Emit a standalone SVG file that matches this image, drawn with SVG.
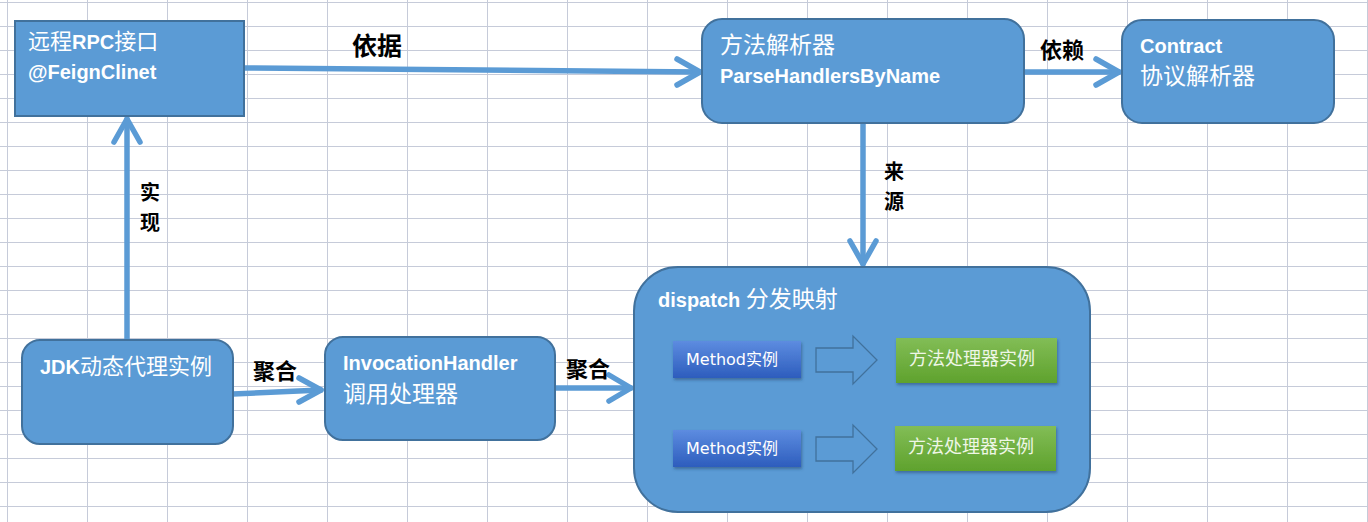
<svg xmlns="http://www.w3.org/2000/svg" width="1368" height="522" viewBox="0 0 1368 522">
<defs>
<style>
.grid line{stroke:#c6cbd9;stroke-width:1}
.box{fill:#5b9bd5;stroke:#41719c;stroke-width:2}
.conn{fill:none;stroke:#5b9bd5;stroke-width:5.5;stroke-linecap:round;stroke-linejoin:round}
.wt{fill:#ffffff;font-family:"Noto Sans CJK SC","Liberation Sans",sans-serif;font-size:23px}
.lat{font-family:"Liberation Sans","Noto Sans CJK SC",sans-serif;font-weight:bold;font-size:20px}
.lbl{fill:#000000;font-family:"Noto Sans CJK SC",sans-serif;font-weight:bold;font-size:22px}
.vl{font-size:20px}
.blk{fill:none;stroke:#41719c;stroke-width:1.3}
.mt{fill:#ffffff;font-family:"DejaVu Sans","Noto Sans CJK SC",sans-serif;font-size:16px}
.gt{fill:#eef6e6;font-family:"Noto Sans CJK SC",sans-serif;font-size:18px}
</style>
<linearGradient id="gBlue" x1="0" y1="0" x2="0" y2="1">
<stop offset="0" stop-color="#5d8ce0"/>
<stop offset="1" stop-color="#2d5dbd"/>
</linearGradient>
<linearGradient id="gGreen" x1="0" y1="0" x2="0" y2="1">
<stop offset="0" stop-color="#82bd56"/>
<stop offset="1" stop-color="#5fa22d"/>
</linearGradient>
<filter id="sh" x="-10%" y="-20%" width="130%" height="150%">
<feDropShadow dx="1" dy="2" stdDeviation="1.5" flood-color="#1f3c66" flood-opacity="0.5"/>
</filter>
</defs>
<rect width="1368" height="522" fill="#ffffff"/>
<g class="grid">
<line x1="7.5" y1="0" x2="7.5" y2="522"/><line x1="87.5" y1="0" x2="87.5" y2="522"/><line x1="167.5" y1="0" x2="167.5" y2="522"/><line x1="247.5" y1="0" x2="247.5" y2="522"/><line x1="327.5" y1="0" x2="327.5" y2="522"/><line x1="407.5" y1="0" x2="407.5" y2="522"/><line x1="487.5" y1="0" x2="487.5" y2="522"/><line x1="567.5" y1="0" x2="567.5" y2="522"/><line x1="647.5" y1="0" x2="647.5" y2="522"/><line x1="727.5" y1="0" x2="727.5" y2="522"/><line x1="807.5" y1="0" x2="807.5" y2="522"/><line x1="887.5" y1="0" x2="887.5" y2="522"/><line x1="967.5" y1="0" x2="967.5" y2="522"/><line x1="1047.5" y1="0" x2="1047.5" y2="522"/><line x1="1127.5" y1="0" x2="1127.5" y2="522"/><line x1="1207.5" y1="0" x2="1207.5" y2="522"/><line x1="1287.5" y1="0" x2="1287.5" y2="522"/><line x1="1367.5" y1="0" x2="1367.5" y2="522"/>
<line x1="0" y1="2.5" x2="1368" y2="2.5"/><line x1="0" y1="26.5" x2="1368" y2="26.5"/><line x1="0" y1="50.5" x2="1368" y2="50.5"/><line x1="0" y1="74.5" x2="1368" y2="74.5"/><line x1="0" y1="98.5" x2="1368" y2="98.5"/><line x1="0" y1="122.5" x2="1368" y2="122.5"/><line x1="0" y1="146.5" x2="1368" y2="146.5"/><line x1="0" y1="170.5" x2="1368" y2="170.5"/><line x1="0" y1="194.5" x2="1368" y2="194.5"/><line x1="0" y1="218.5" x2="1368" y2="218.5"/><line x1="0" y1="242.5" x2="1368" y2="242.5"/><line x1="0" y1="266.5" x2="1368" y2="266.5"/><line x1="0" y1="290.5" x2="1368" y2="290.5"/><line x1="0" y1="314.5" x2="1368" y2="314.5"/><line x1="0" y1="338.5" x2="1368" y2="338.5"/><line x1="0" y1="362.5" x2="1368" y2="362.5"/><line x1="0" y1="386.5" x2="1368" y2="386.5"/><line x1="0" y1="410.5" x2="1368" y2="410.5"/><line x1="0" y1="434.5" x2="1368" y2="434.5"/><line x1="0" y1="458.5" x2="1368" y2="458.5"/><line x1="0" y1="482.5" x2="1368" y2="482.5"/><line x1="0" y1="506.5" x2="1368" y2="506.5"/>
</g>
<g id="connectors">
<path class="conn" d="M244,68 L699,72"/>
<path class="conn" d="M677,59 L700,72 L677,85"/>
<path class="conn" d="M1024,72 L1119,72"/>
<path class="conn" d="M1096,59 L1119,72 L1096,85"/>
<path class="conn" d="M127,340 L127,119"/>
<path class="conn" d="M114,142 L127,119 L140,142"/>
<path class="conn" d="M863,122 L863,264"/>
<path class="conn" d="M850,241 L863,264 L876,241"/>
<path class="conn" d="M233,394 L321,390"/>
<path class="conn" d="M299,378 L321,390 L299,402"/>
<path class="conn" d="M555,388 L631,388"/>
<path class="conn" d="M609,375 L631,388 L609,401"/>
<text class="lbl" x="352" y="55" style="font-size:25px">依据</text>
<text class="lbl" x="1040" y="58">依赖</text>
<text class="lbl vl" x="140" y="200">实</text>
<text class="lbl vl" x="140" y="230">现</text>
<text class="lbl vl" x="884" y="179">来</text>
<text class="lbl vl" x="884" y="209">源</text>
<text class="lbl" x="253" y="379">聚合</text>
<text class="lbl" x="566" y="377">聚合</text>
</g>
<g id="rpc">
<rect class="box" x="15" y="21" width="229" height="95"/>
<text class="wt" x="28" y="49" style="font-size:22px">远程<tspan class="lat">RPC</tspan>接口</text>
<text class="wt lat" x="28" y="79">@FeignClinet</text>
</g>
<g id="parser">
<rect class="box" x="702" y="19" width="322" height="104" rx="20"/>
<text class="wt" x="720" y="53">方法解析器</text>
<text class="wt lat" x="720" y="83">ParseHandlersByName</text>
</g>
<g id="contract">
<rect class="box" x="1122" y="20" width="212" height="103" rx="20"/>
<text class="wt lat" x="1140" y="53">Contract</text>
<text class="wt" x="1140" y="84">协议解析器</text>
</g>
<g id="jdk">
<rect class="box" x="22" y="340" width="211" height="104" rx="18"/>
<text class="wt" x="40" y="374" style="font-size:22px"><tspan class="lat">JDK</tspan>动态代理实例</text>
</g>
<g id="handler">
<rect class="box" x="325" y="337" width="230" height="103" rx="18"/>
<text class="wt lat" x="343" y="370">InvocationHandler</text>
<text class="wt" x="343" y="402">调用处理器</text>
</g>
<g id="dispatch">
<rect class="box" x="634" y="267" width="456" height="245" rx="44"/>
<text class="wt" x="658" y="307"><tspan class="lat">dispatch </tspan>分发映射</text>
</g>
<g id="method1">
<rect x="673" y="341" width="128" height="37" fill="url(#gBlue)" filter="url(#sh)"/>
<text class="mt" x="686" y="365">Method实例</text>
</g>
<g id="arrow1">
<path class="blk" d="M816,348 L853,348 L853,336 L877,360 L853,384 L853,372 L816,372 Z"/>
</g>
<g id="handler1">
<rect x="896" y="338" width="161" height="45" fill="url(#gGreen)" filter="url(#sh)"/>
<text class="gt" x="909" y="365">方法处理器实例</text>
</g>
<g id="method2">
<rect x="673" y="430" width="128" height="37" fill="url(#gBlue)" filter="url(#sh)"/>
<text class="mt" x="686" y="454">Method实例</text>
</g>
<g id="arrow2">
<path class="blk" d="M816,437 L853,437 L853,425 L877,449 L853,473 L853,461 L816,461 Z"/>
</g>
<g id="handler2">
<rect x="895" y="426" width="161" height="45" fill="url(#gGreen)" filter="url(#sh)"/>
<text class="gt" x="908" y="453">方法处理器实例</text>
</g>
</svg>
